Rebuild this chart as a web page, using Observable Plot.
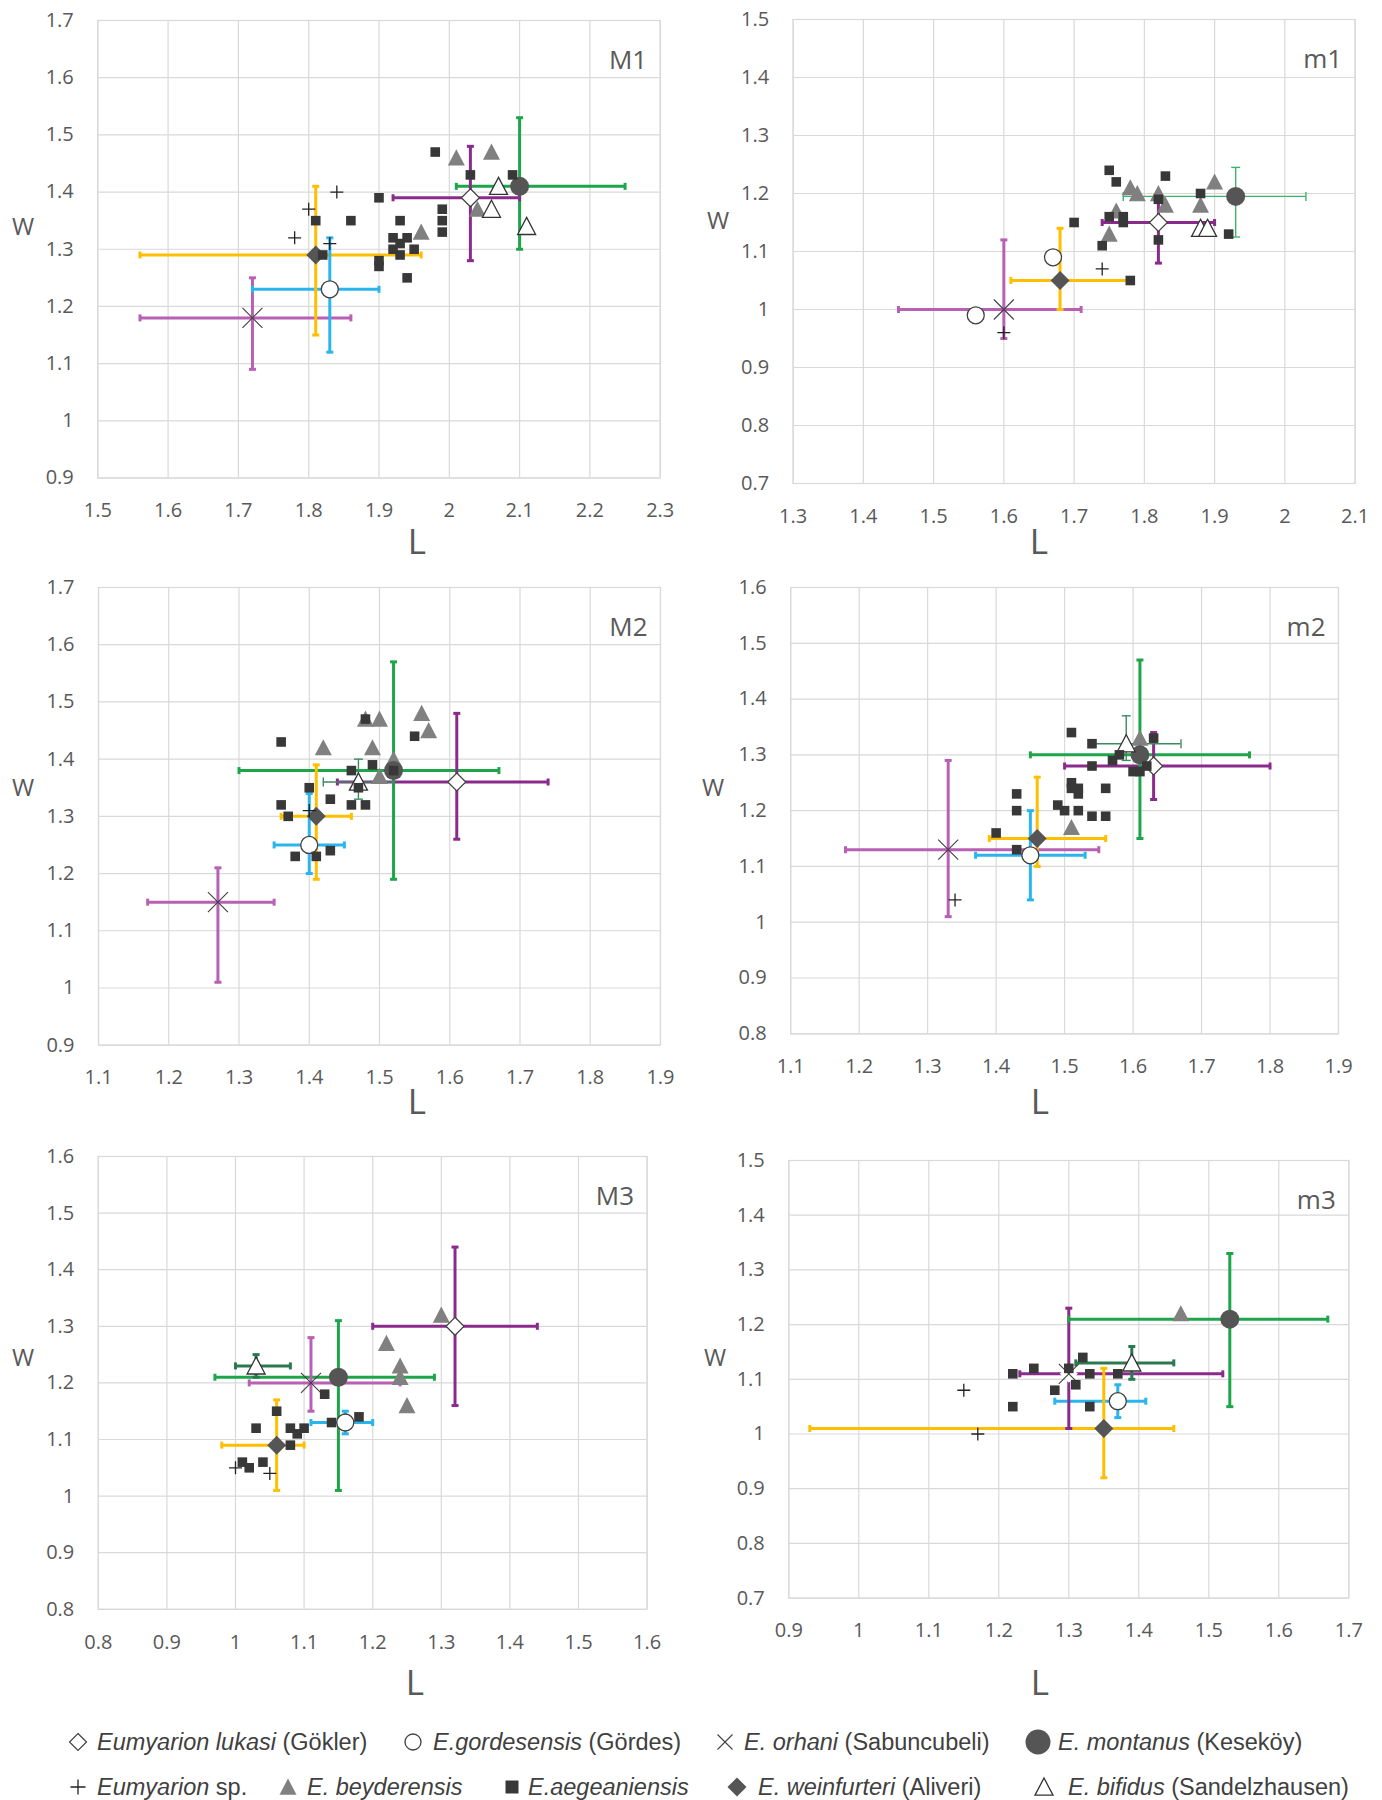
<!DOCTYPE html>
<html><head><meta charset="utf-8">
<script src="https://cdn.jsdelivr.net/npm/d3@7"></script>
<script src="https://cdn.jsdelivr.net/npm/@observablehq/plot@0.6"></script>
<style>
body{margin:0;background:#fff;}
#fig{position:relative;width:1382px;height:1800px;background:#fff;overflow:hidden;}
.axlab{position:absolute;transform:translate(-50%,-50%);color:#595959;font-family:"Open Sans",sans-serif;line-height:1;}
.leg{position:absolute;font-family:"Liberation Sans",Arial,sans-serif;font-size:23.5px;color:#404040;white-space:nowrap;transform:translateY(-50%);line-height:1.2;}
.legsym{position:absolute;transform:translate(-50%,-50%);overflow:visible;}
</style></head><body><div id="fig"></div><script>
// ---------- DATA ----------
// means with error bars: [species, L, W, Lmin, Lmax, Wmin, Wmax]
// single points: [species, L, W]
const ticks_M1_L = [1.5,1.6,1.7,1.8,1.9,2.0,2.1,2.2,2.3];
const ticks_M1_W = [0.9,1.0,1.1,1.2,1.3,1.4,1.5,1.6,1.7];
const ticks_m1_L = [1.3,1.4,1.5,1.6,1.7,1.8,1.9,2.0,2.1];
const ticks_m1_W = [0.7,0.8,0.9,1.0,1.1,1.2,1.3,1.4,1.5];
const ticks_M2_L = [1.1,1.2,1.3,1.4,1.5,1.6,1.7,1.8,1.9];
const ticks_M2_W = [0.9,1.0,1.1,1.2,1.3,1.4,1.5,1.6,1.7];
const ticks_m2_L = [1.1,1.2,1.3,1.4,1.5,1.6,1.7,1.8,1.9];
const ticks_m2_W = [0.8,0.9,1.0,1.1,1.2,1.3,1.4,1.5,1.6];
const ticks_M3_L = [0.8,0.9,1.0,1.1,1.2,1.3,1.4,1.5,1.6];
const ticks_M3_W = [0.8,0.9,1.0,1.1,1.2,1.3,1.4,1.5,1.6];
const ticks_m3_L = [0.9,1.0,1.1,1.2,1.3,1.4,1.5,1.6,1.7];
const ticks_m3_W = [0.7,0.8,0.9,1.0,1.1,1.2,1.3,1.4,1.5];

const M1_means = [
  ["lukasi",2.03,1.39,1.92,2.10,1.28,1.48],
  ["gordesensis",1.83,1.23,1.72,1.90,1.12,1.32],
  ["orhani",1.72,1.18,1.56,1.86,1.09,1.25],
  ["montanus",2.10,1.41,2.01,2.25,1.30,1.53],
  ["weinfurteri",1.81,1.29,1.56,1.96,1.15,1.41]
];
const M1_points = [
  ["bifidus",2.07,1.41],["bifidus",2.06,1.37],["bifidus",2.11,1.34],
  ["beyderensis",2.01,1.46],["beyderensis",2.06,1.47],["beyderensis",1.96,1.33],["beyderensis",2.04,1.37],
  ["aegeaniensis",1.98,1.47],["aegeaniensis",2.03,1.43],["aegeaniensis",2.09,1.43],["aegeaniensis",1.90,1.39],
  ["aegeaniensis",1.81,1.35],["aegeaniensis",1.86,1.35],["aegeaniensis",1.93,1.35],["aegeaniensis",1.99,1.37],
  ["aegeaniensis",1.99,1.35],["aegeaniensis",1.99,1.33],["aegeaniensis",1.92,1.32],["aegeaniensis",1.94,1.32],
  ["aegeaniensis",1.93,1.31],["aegeaniensis",1.92,1.30],["aegeaniensis",1.95,1.30],["aegeaniensis",1.93,1.29],
  ["aegeaniensis",1.82,1.29],["aegeaniensis",1.90,1.28],["aegeaniensis",1.90,1.27],["aegeaniensis",1.94,1.25],
  ["sp",1.84,1.40],["sp",1.80,1.37],["sp",1.78,1.32],["sp",1.83,1.31]
];

const m1_means = [
  ["lukasi",1.82,1.15,1.74,1.90,1.08,1.19],
  ["montanus",1.93,1.195,1.77,2.03,1.125,1.245],
  ["weinfurteri",1.68,1.05,1.61,1.78,1.00,1.14],
  ["orhani",1.60,1.00,1.45,1.71,0.95,1.12]
];
const m1_points = [
  ["gordesensis",1.67,1.09],["gordesensis",1.56,0.99],
  ["bifidus",1.88,1.14],["bifidus",1.89,1.14],
  ["beyderensis",1.78,1.21],["beyderensis",1.79,1.20],["beyderensis",1.82,1.20],["beyderensis",1.83,1.18],
  ["beyderensis",1.76,1.17],["beyderensis",1.75,1.13],["beyderensis",1.90,1.22],["beyderensis",1.88,1.18],
  ["aegeaniensis",1.75,1.24],["aegeaniensis",1.76,1.22],["aegeaniensis",1.83,1.23],["aegeaniensis",1.82,1.19],
  ["aegeaniensis",1.88,1.20],["aegeaniensis",1.75,1.16],["aegeaniensis",1.77,1.16],["aegeaniensis",1.77,1.15],
  ["aegeaniensis",1.70,1.15],["aegeaniensis",1.74,1.11],["aegeaniensis",1.82,1.12],["aegeaniensis",1.92,1.13],
  ["aegeaniensis",1.78,1.05],
  ["sp",1.74,1.07],["sp",1.60,0.96]
];

const M2_means = [
  ["lukasi",1.61,1.36,1.44,1.74,1.26,1.48],
  ["montanus",1.52,1.38,1.30,1.67,1.19,1.57],
  ["gordesensis",1.40,1.25,1.35,1.45,1.20,1.34],
  ["weinfurteri",1.41,1.30,1.36,1.46,1.19,1.39],
  ["orhani",1.27,1.15,1.17,1.35,1.01,1.21],
  ["bifidus",1.47,1.36,1.42,1.52,1.33,1.40]
];
const M2_points = [
  ["beyderensis",1.48,1.47],["beyderensis",1.50,1.47],["beyderensis",1.56,1.48],["beyderensis",1.57,1.45],
  ["beyderensis",1.42,1.42],["beyderensis",1.49,1.42],["beyderensis",1.52,1.40],["beyderensis",1.50,1.37],
  ["aegeaniensis",1.36,1.43],["aegeaniensis",1.48,1.47],["aegeaniensis",1.55,1.44],["aegeaniensis",1.49,1.39],
  ["aegeaniensis",1.46,1.38],["aegeaniensis",1.52,1.38],["aegeaniensis",1.47,1.35],["aegeaniensis",1.40,1.35],
  ["aegeaniensis",1.43,1.33],["aegeaniensis",1.46,1.32],["aegeaniensis",1.48,1.32],["aegeaniensis",1.36,1.32],
  ["aegeaniensis",1.37,1.30],["aegeaniensis",1.38,1.23],["aegeaniensis",1.41,1.23],["aegeaniensis",1.43,1.24],
  ["sp",1.40,1.31]
];

const m2_means = [
  ["lukasi",1.63,1.28,1.50,1.80,1.22,1.34],
  ["montanus",1.61,1.30,1.45,1.77,1.15,1.47],
  ["gordesensis",1.45,1.12,1.37,1.53,1.04,1.20],
  ["weinfurteri",1.46,1.15,1.39,1.56,1.10,1.26],
  ["orhani",1.33,1.13,1.18,1.55,1.01,1.29],
  ["bifidus",1.59,1.32,1.54,1.67,1.29,1.37]
];
const m2_points = [
  ["beyderensis",1.61,1.33],["beyderensis",1.51,1.17],
  ["aegeaniensis",1.51,1.34],["aegeaniensis",1.54,1.32],["aegeaniensis",1.63,1.33],["aegeaniensis",1.58,1.30],
  ["aegeaniensis",1.57,1.29],["aegeaniensis",1.54,1.28],["aegeaniensis",1.62,1.28],["aegeaniensis",1.60,1.27],
  ["aegeaniensis",1.61,1.27],["aegeaniensis",1.51,1.25],["aegeaniensis",1.51,1.24],["aegeaniensis",1.52,1.24],
  ["aegeaniensis",1.52,1.23],["aegeaniensis",1.56,1.24],["aegeaniensis",1.43,1.23],["aegeaniensis",1.49,1.21],
  ["aegeaniensis",1.50,1.20],["aegeaniensis",1.52,1.20],["aegeaniensis",1.54,1.19],["aegeaniensis",1.56,1.19],
  ["aegeaniensis",1.43,1.20],["aegeaniensis",1.40,1.16],["aegeaniensis",1.43,1.13],
  ["sp",1.34,1.04]
];

const M3_means = [
  ["lukasi",1.32,1.30,1.20,1.44,1.16,1.44],
  ["montanus",1.15,1.21,0.97,1.29,1.01,1.31],
  ["gordesensis",1.16,1.13,1.11,1.20,1.11,1.15],
  ["weinfurteri",1.06,1.09,0.98,1.10,1.01,1.17],
  ["orhani",1.11,1.20,1.02,1.24,1.15,1.28],
  ["bifidus",1.03,1.23,1.00,1.08,1.21,1.25]
];
const M3_points = [
  ["beyderensis",1.30,1.32],["beyderensis",1.22,1.27],["beyderensis",1.24,1.23],["beyderensis",1.24,1.21],["beyderensis",1.25,1.16],
  ["aegeaniensis",1.13,1.18],["aegeaniensis",1.06,1.15],["aegeaniensis",1.03,1.12],["aegeaniensis",1.08,1.12],
  ["aegeaniensis",1.10,1.12],["aegeaniensis",1.09,1.11],["aegeaniensis",1.08,1.09],["aegeaniensis",1.14,1.13],
  ["aegeaniensis",1.18,1.14],["aegeaniensis",1.01,1.06],["aegeaniensis",1.02,1.05],["aegeaniensis",1.04,1.06],
  ["sp",1.00,1.05],["sp",1.05,1.04]
];

const m3_means = [
  ["lukasi",1.30,1.11,1.23,1.52,1.01,1.23],
  ["montanus",1.53,1.21,1.30,1.67,1.05,1.33],
  ["gordesensis",1.37,1.06,1.28,1.41,1.03,1.09],
  ["weinfurteri",1.35,1.01,0.93,1.45,0.92,1.12],
  ["bifidus",1.39,1.13,1.31,1.45,1.10,1.16]
];
const m3_points = [
  ["orhani",1.30,1.11],
  ["beyderensis",1.46,1.22],
  ["aegeaniensis",1.32,1.14],["aegeaniensis",1.30,1.12],["aegeaniensis",1.25,1.12],["aegeaniensis",1.22,1.11],
  ["aegeaniensis",1.33,1.11],["aegeaniensis",1.37,1.11],["aegeaniensis",1.31,1.09],["aegeaniensis",1.28,1.08],
  ["aegeaniensis",1.22,1.05],["aegeaniensis",1.33,1.05],
  ["sp",1.15,1.08],["sp",1.17,1.00]
];

const legendNames = [
  ["lukasi","Eumyarion lukasi"," (Gökler)"],
  ["gordesensis","E.gordesensis"," (Gördes)"],
  ["orhani","E. orhani"," (Sabuncubeli)"],
  ["montanus","E. montanus"," (Keseköy)"],
  ["sp","Eumyarion"," sp."],
  ["beyderensis","E. beyderensis",""],
  ["aegeaniensis","E.aegeaniensis",""],
  ["weinfurteri","E. weinfurteri"," (Aliveri)"],
  ["bifidus","E. bifidus"," (Sandelzhausen)"]
];

// ---------- STYLE ----------
const symCircle = {draw(c,s){const r=Math.sqrt(s/Math.PI);c.moveTo(r,0);c.arc(0,0,r,0,2*Math.PI);}};
const symDiamond = {draw(c,s){const r=Math.sqrt(s/Math.PI);c.moveTo(0,-r);c.lineTo(r,0);c.lineTo(0,r);c.lineTo(-r,0);c.closePath();}};
const symTri = {draw(c,s){const r=Math.sqrt(s/Math.PI);c.moveTo(0,-r);c.lineTo(r,r*0.9);c.lineTo(-r,r*0.9);c.closePath();}};
const symSquare = {draw(c,s){const r=Math.sqrt(s/Math.PI);c.rect(-r,-r,2*r,2*r);}};
const symX = {draw(c,s){const r=Math.sqrt(s/Math.PI);c.moveTo(-r,-r);c.lineTo(r,r);c.moveTo(r,-r);c.lineTo(-r,r);}};
const symPlus = {draw(c,s){const r=Math.sqrt(s/Math.PI);c.moveTo(-r,0);c.lineTo(r,0);c.moveTo(0,-r);c.lineTo(0,r);}};
const symVLine = {draw(c,s){const r=Math.sqrt(s/Math.PI);c.moveTo(0,-r);c.lineTo(0,r);}};
const symHLine = {draw(c,s){const r=Math.sqrt(s/Math.PI);c.moveTo(-r,0);c.lineTo(r,0);}};

const markerStyle = {
  beyderensis: {symbol:symTri, r:8.5, fill:"#808080", stroke:"none"},
  lukasi: {symbol:symDiamond, r:9, fill:"white", stroke:"#404040", strokeWidth:1.2},
  gordesensis: {symbol:symCircle, r:8.5, fill:"white", stroke:"#404040", strokeWidth:1.3},
  orhani: {symbol:symX, r:10, fill:"none", stroke:"#404040", strokeWidth:1.1},
  montanus: {symbol:symCircle, r:9.5, fill:"#555555", stroke:"none"},
  weinfurteri: {symbol:symDiamond, r:9.5, fill:"#555555", stroke:"none"},
  bifidus: {symbol:symTri, r:9, fill:"white", stroke:"#333333", strokeWidth:1.3},
  aegeaniensis: {symbol:symSquare, r:4.8, fill:"#383838", stroke:"none"},
  sp: {symbol:symPlus, r:6.5, fill:"none", stroke:"#222222", strokeWidth:1.3}
};
const drawOrder = ["beyderensis","lukasi","gordesensis","orhani","montanus","weinfurteri","bifidus","aegeaniensis","sp"];
const barColor = {lukasi:"#8a2b8c", gordesensis:"#2ab5ed", orhani:"#b860b4", montanus:"#1ea54a", weinfurteri:"#ffbf00", bifidus:"#2b7a4f"};
const thinColor = {montanus:"#3bb56b", bifidus:"#3d8a60"};
const thinBars = {m1:["montanus"], M2:["bifidus"], m2:["bifidus"]};
const hiddenMarkers = {m3:["lukasi"]};

const layout = [
  {name:"M1", means:M1_means, points:M1_points, xt:ticks_M1_L, yt:ticks_M1_W, col:0, x0:97.3, x1:659.7, y0:19.5, y1:477, L:[417,540], W:[23,226]},
  {name:"m1", means:m1_means, points:m1_points, xt:ticks_m1_L, yt:ticks_m1_W, col:1, x0:792.6, x1:1354.6, y0:19, y1:483, L:[1039,540], W:[718,220]},
  {name:"M2", means:M2_means, points:M2_points, xt:ticks_M2_L, yt:ticks_M2_W, col:0, x0:98, x1:660, y0:587.3, y1:1045, L:[417,1100], W:[23,787]},
  {name:"m2", means:m2_means, points:m2_points, xt:ticks_m2_L, yt:ticks_m2_W, col:1, x0:790.2, x1:1338, y0:586.7, y1:1033, L:[1040,1100], W:[713,787]},
  {name:"M3", means:M3_means, points:M3_points, xt:ticks_M3_L, yt:ticks_M3_W, col:0, x0:97.8, x1:646.6, y0:1156.2, y1:1609, L:[415,1681], W:[23,1357]},
  {name:"m3", means:m3_means, points:m3_points, xt:ticks_m3_L, yt:ticks_m3_W, col:1, x0:788.3, x1:1348.3, y0:1160.2, y1:1597.8, L:[1040,1681], W:[715,1357]}
];

const fmt = d => String(Math.round(d*10)/10);
const fig = document.getElementById("fig");

function buildPanel(cfg) {
  const thinList = thinBars[cfg.name] || [];
  const hidden = hiddenMarkers[cfg.name] || [];
  const means = cfg.means.map(([sp,L,W,Lmin,Lmax,Wmin,Wmax]) => ({sp,L,W,Lmin,Lmax,Wmin,Wmax,thin:thinList.includes(sp)}));
  const pts = means.map(m => ({sp:m.sp, L:m.L, W:m.W})).concat(cfg.points.map(([sp,L,W]) => ({sp,L,W})));
  const col = m => m.thin ? thinColor[m.sp] : barColor[m.sp];
  const marks = [
    Plot.ruleX(cfg.xt, {stroke:"#d9d9d9", strokeWidth:1.2}),
    Plot.ruleY(cfg.yt, {stroke:"#d9d9d9", strokeWidth:1.2})
  ];
  for (const thin of [false, true]) {
    const d = means.filter(m => m.thin === thin);
    if (!d.length) continue;
    const sw = thin ? 1.4 : 3;
    marks.push(Plot.ruleY(d, {y:"W", x1:"Lmin", x2:"Lmax", stroke:col, strokeWidth:sw}));
    marks.push(Plot.ruleX(d, {x:"L", y1:"Wmin", y2:"Wmax", stroke:col, strokeWidth:sw}));
    const capsV = d.flatMap(m => [{x:m.Lmin, y:m.W, c:col(m)}, {x:m.Lmax, y:m.W, c:col(m)}]);
    const capsH = d.flatMap(m => [{x:m.L, y:m.Wmin, c:col(m)}, {x:m.L, y:m.Wmax, c:col(m)}]);
    marks.push(Plot.dot(capsV, {x:"x", y:"y", symbol:symVLine, r:thin?4.5:3.5, stroke:"c", fill:"none", strokeWidth:sw}));
    marks.push(Plot.dot(capsH, {x:"x", y:"y", symbol:symHLine, r:thin?4.5:3.5, stroke:"c", fill:"none", strokeWidth:sw}));
  }
  for (const sp of drawOrder) {
    const st = markerStyle[sp];
    const vis = pts.filter(p => p.sp === sp && !hidden.includes(sp));
    const hid = pts.filter(p => p.sp === sp && hidden.includes(sp));
    if (vis.length) marks.push(Plot.dot(vis, {x:"L", y:"W", symbol:st.symbol, r:st.r, fill:st.fill, stroke:st.stroke, strokeWidth:st.strokeWidth || 1}));
    if (hid.length) marks.push(Plot.dot(hid, {x:"L", y:"W", symbol:st.symbol, r:st.r, fill:"white", stroke:"none"}));
  }
  marks.push(Plot.frame({stroke:"#d9d9d9", strokeWidth:1.2}));
  marks.push(Plot.text([cfg.name], {frameAnchor:"top-right", dx:-13, dy:30, text:d=>d, fontSize:26, fill:"#595959", textAnchor:"end"}));

  const left = cfg.col === 0 ? 0 : 700;
  const svgW = cfg.col === 0 ? 690 : 682;
  const mt = 15, mb = 50;
  const p = Plot.plot({
    width: svgW, height: (cfg.y1 - cfg.y0) + mt + mb,
    marginLeft: cfg.x0 - left, marginRight: left + svgW - cfg.x1, marginTop: mt, marginBottom: mb,
    x: {domain:[cfg.xt[0], cfg.xt[cfg.xt.length-1]], ticks:cfg.xt, tickSize:0, tickPadding:25, tickFormat:fmt, label:null},
    y: {domain:[cfg.yt[0], cfg.yt[cfg.yt.length-1]], ticks:cfg.yt, tickSize:0, tickPadding:24, tickFormat:fmt, label:null},
    color: {type:"identity"},
    style: {fontFamily:"'Open Sans', sans-serif", fontSize:"20px", color:"#595959", background:"transparent", overflow:"visible"},
    marks
  });
  p.style.position = "absolute";
  p.style.left = left + "px";
  p.style.top = (cfg.y0 - mt) + "px";
  fig.appendChild(p);

  const w = document.createElement("div");
  w.className = "axlab"; w.textContent = "W";
  w.style.left = cfg.W[0] + "px"; w.style.top = cfg.W[1] + "px"; w.style.fontSize = "24px";
  fig.appendChild(w);
  const l = document.createElement("div");
  l.className = "axlab"; l.textContent = "L";
  l.style.left = cfg.L[0] + "px"; l.style.top = cfg.L[1] + "px"; l.style.fontSize = "35px";
  fig.appendChild(l);
}
layout.forEach(buildPanel);

// ---------- LEGEND ----------
const legendLayout = [
  {sym:78, text:97, y:1742, r:8.5},
  {sym:413, text:433, y:1742, r:8},
  {sym:725, text:744, y:1742, r:7.5},
  {sym:1038, text:1058, y:1742, r:12.5},
  {sym:78, text:97, y:1787, r:7.5},
  {sym:288, text:307, y:1787, r:8.5},
  {sym:512, text:528, y:1787, r:6.5},
  {sym:737, text:758, y:1787, r:9.5},
  {sym:1044, text:1068, y:1787, r:9}
];
legendNames.forEach(([sp, it, rest], i) => {
  const pos = legendLayout[i];
  const st = markerStyle[sp];
  const ns = "http://www.w3.org/2000/svg";
  const svg = document.createElementNS(ns, "svg");
  svg.setAttribute("width", 30); svg.setAttribute("height", 30);
  svg.setAttribute("class", "legsym");
  svg.style.left = pos.sym + "px"; svg.style.top = pos.y + "px";
  const path = document.createElementNS(ns, "path");
  path.setAttribute("d", d3.symbol(st.symbol, Math.PI * pos.r * pos.r)());
  path.setAttribute("transform", "translate(15,15)");
  path.setAttribute("fill", st.fill);
  path.setAttribute("stroke", st.stroke);
  path.setAttribute("stroke-width", st.strokeWidth || 1);
  svg.appendChild(path);
  fig.appendChild(svg);
  const t = document.createElement("div");
  t.className = "leg";
  t.style.left = pos.text + "px"; t.style.top = pos.y + "px";
  const em = document.createElement("i"); em.textContent = it;
  t.appendChild(em);
  if (rest) t.appendChild(document.createTextNode(rest));
  fig.appendChild(t);
});
</script></body></html>
